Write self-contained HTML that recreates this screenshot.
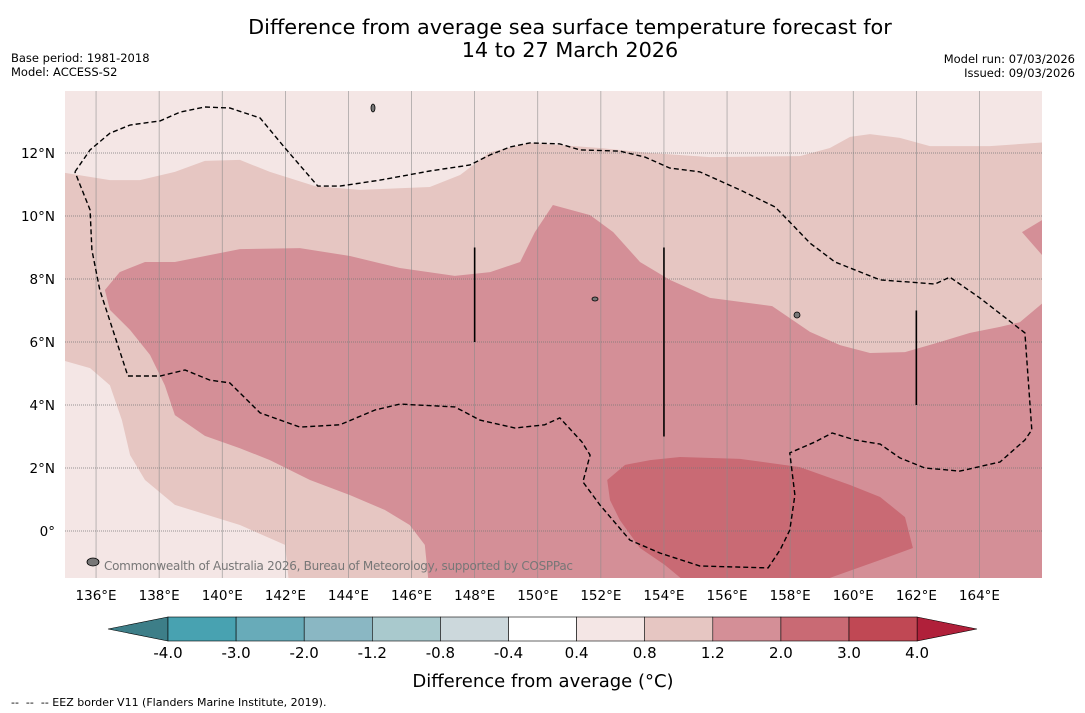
<!DOCTYPE html>
<html><head><meta charset="utf-8">
<style>
body{margin:0;background:#fff;font-family:"Liberation Sans","DejaVu Sans",sans-serif;}
svg{display:block}
text{font-family:"DejaVu Sans","Liberation Sans",sans-serif}
</style></head>
<body>
<svg id="chart" width="1085" height="713" viewBox="0 0 1085 713" xmlns="http://www.w3.org/2000/svg">
<rect width="1085" height="713" fill="#fff"/>
<text x="570" y="34" font-size="20.8" text-anchor="middle">Difference from average sea surface temperature forecast for</text>
<text x="570" y="57" font-size="20.8" text-anchor="middle">14 to 27 March 2026</text>
<text x="11" y="62" font-size="11.5">Base period: 1981-2018</text>
<text x="11" y="76" font-size="11.5">Model: ACCESS-S2</text>
<text x="1075" y="63" font-size="11.5" text-anchor="end">Model run: 07/03/2026</text>
<text x="1075" y="77" font-size="11.5" text-anchor="end">Issued: 09/03/2026</text>
<defs><clipPath id="mapclip"><rect x="65" y="91" width="977" height="487"/></clipPath></defs>
<g id="map" clip-path="url(#mapclip)"></g>
<g id="axes"></g>
<g id="cbar"></g>
<text x="543" y="687" font-size="18" text-anchor="middle">Difference from average (°C)</text>
<text x="11" y="706" font-size="11" xml:space="preserve">--  --  -- EEZ border V11 (Flanders Marine Institute, 2019).</text>
</svg>
<script>
const lonTicks=[136,138,140,142,144,146,148,150,152,154,156,158,160,162,164];
const latTicks=[0,2,4,6,8,10,12];
const contour08=[[135,11.37],[136.44,11.14],[137.39,11.14],[138.5,11.4],[139.45,11.75],[140.56,11.78],[141.51,11.4],[142.94,10.95],[144.37,10.83],[146.58,10.92],[147.54,11.3],[148.49,12.03],[149.75,12.32],[151.97,12.16],[153.56,12.0],[155.46,11.87],[158.31,11.9],[159.26,12.16],[159.9,12.51],[160.53,12.6],[161.48,12.48],[162.43,12.22],[164.33,12.22],[166.2,12.35],[166.2,-2],[142.15,-2],[141.99,-0.44],[140.56,0.19],[138.5,0.83],[137.55,1.62],[137.08,2.41],[136.82,3.52],[136.44,4.63],[135.81,5.17],[134.9,5.43]];
const contour12=[[136.28,7.65],[136.75,8.22],[137.55,8.54],[138.5,8.54],[140.56,8.95],[142.46,8.98],[144.05,8.73],[145.63,8.35],[147.37,8.1],[148.49,8.22],[149.44,8.54],[149.91,9.49],[150.48,10.35],[151.66,10.03],[152.39,9.49],[153.24,8.54],[154.19,7.97],[155.46,7.4],[157.43,7.14],[158.63,6.32],[159.58,5.9],[160.53,5.65],[161.64,5.68],[162.75,6.0],[163.7,6.29],[164.65,6.48],[165.28,6.63],[166.2,7.4],[166.2,-2],[146.58,-2],[146.42,-0.44],[145.94,0.19],[145.15,0.67],[144.05,1.14],[142.78,1.62],[141.51,2.25],[140.56,2.63],[139.45,3.02],[138.5,3.68],[138.18,4.63],[137.71,5.59],[137.08,6.38],[136.44,7.02]];
const contour12b=[[165.35,9.49],[166.2,10.0],[166.2,8.51]];
const contour20=[[152.2,1.62],[152.77,2.1],[153.56,2.25],[154.51,2.35],[156.41,2.29],[158.31,2.03],[159.9,1.46],[160.85,1.08],[161.64,0.44],[161.89,-0.54],[160.85,-0.92],[159.26,-1.49],[158.95,-2],[155.14,-2],[154.03,-1.08],[153.24,-0.54],[152.6,0.35],[152.29,0.98]];
const eez=[[135.33,11.4],[135.81,12.1],[136.44,12.63],[137.08,12.89],[138.03,13.02],[138.67,13.3],[139.45,13.46],[140.24,13.43],[141.2,13.11],[141.99,12.16],[143.03,10.95],[143.73,10.95],[145.0,11.14],[146.58,11.43],[147.85,11.62],[148.49,11.94],[149.12,12.19],[149.75,12.32],[150.7,12.29],[151.34,12.1],[152.6,12.06],[153.4,11.87],[154.19,11.52],[155.14,11.4],[156.41,10.83],[157.52,10.29],[157.99,9.81],[158.63,9.14],[159.42,8.54],[160.85,7.97],[162.59,7.84],[163.06,8.06],[164.01,7.4],[165.44,6.29],[165.66,3.21],[165.44,2.89],[164.65,2.19],[163.38,1.9],[162.27,2.0],[161.48,2.32],[160.85,2.76],[160.06,2.89],[159.33,3.11],[158.79,2.83],[157.99,2.48],[158.15,1.14],[157.99,0.03],[157.68,-0.6],[157.3,-1.17],[155.14,-1.11],[153.87,-0.7],[152.92,-0.29],[151.97,0.83],[151.43,1.56],[151.66,2.41],[151.4,2.83],[150.7,3.59],[150.22,3.37],[149.28,3.27],[148.17,3.52],[147.37,3.94],[145.63,4.03],[144.84,3.84],[143.73,3.37],[142.46,3.3],[141.2,3.75],[140.24,4.7],[139.61,4.79],[138.82,5.11],[138.03,4.92],[137.01,4.92],[136.12,7.65],[135.87,8.92],[135.81,10.19],[135.33,11.4]];
const meridianLons=[148,154,162];
const meridianLat0=[6,3,4];
const meridianLat1=[9,9,7];
const cbLabels=["-4.0","-3.0","-2.0","-1.2","-0.8","-0.4","0.4","0.8","1.2","2.0","3.0","4.0"];
const cbColors=["#48a2b1","#68abb9","#8ab7c3","#a9c9cd","#ccd8dc","#ffffff","#f4e6e5","#e6c6c2","#d48f97","#c96a74","#c04854"];

const NS="http://www.w3.org/2000/svg";
const X=lon=>64.5+(lon-135)*31.55;
const Y=lat=>531-lat*31.5;
const pts=a=>a.map(p=>X(p[0]).toFixed(1)+","+Y(p[1]).toFixed(1)).join(" ");
function mk(tag,attrs,parent){const e=document.createElementNS(NS,tag);for(const k in attrs)e.setAttribute(k,attrs[k]);parent.appendChild(e);return e;}
const map=document.getElementById('map');
let e=mk('rect',{x:65,y:91,width:977,height:487,fill:"#f4e6e5"},map);


e=mk('polygon',{points:pts(contour08),fill:"#e6c6c2"},map);


e=mk('polygon',{points:pts(contour12),fill:"#d48f97"},map);


e=mk('polygon',{points:pts(contour12b),fill:"#d48f97"},map);


e=mk('polygon',{points:pts(contour20),fill:"#c96a74"},map);


lonTicks.forEach(l=>{e=mk('line',{x1:X(l),x2:X(l),y1:91,y2:578,stroke:"#8a8a8a","stroke-width":0.7,"stroke-opacity":0.8},map);

});
latTicks.forEach(l=>{e=mk('line',{x1:65,x2:1042,y1:Y(l),y2:Y(l),stroke:"#777","stroke-width":0.8,"stroke-dasharray":"1,1"},map);

});
e=mk('polyline',{points:pts(eez),fill:"none",stroke:"#000","stroke-width":1.4,"stroke-dasharray":"5,3"},map);


meridianLons.forEach((l,i)=>{e=mk('line',{x1:X(l),x2:X(l),y1:Y(meridianLat0[i]),y2:Y(meridianLat1[i]),stroke:"#000","stroke-width":1.6},map);

});
[[373,108,2,4],[797,315,3,3],[93,562,6,4],[595,299,3,2]].forEach(p=>{e=mk('ellipse',{cx:p[0],cy:p[1],rx:p[2],ry:p[3],fill:"#777",stroke:"#000","stroke-width":0.8},map);

});
e=mk('text',{x:104,y:570,"font-size":12,fill:"#777","textLength":469},map);e.textContent="Commonwealth of Australia 2026, Bureau of Meteorology, supported by COSPPac";


const axes=document.getElementById('axes');
lonTicks.forEach(l=>{e=mk('text',{x:X(l),y:600,"font-size":13.5,"text-anchor":"middle"},axes);e.textContent=l+"°E";

});
latTicks.forEach(l=>{e=mk('text',{x:55,y:Y(l)+5,"font-size":13.5,"text-anchor":"end"},axes);e.textContent=l===0?"0°":l+"°N";

});
const cb=document.getElementById('cbar');
const cx0=168,cw=68.1,cy=617,ch=24;
e=mk('polygon',{points:`108,629 ${cx0},${cy} ${cx0},${cy+ch}`,fill:"#3d7e88",stroke:"#000","stroke-width":0.6},cb);


const cx1=cx0+cw*cbColors.length;
e=mk('polygon',{points:`${cx1},${cy} 977,629 ${cx1},${cy+ch}`,fill:"#b0203a",stroke:"#000","stroke-width":0.6},cb);


cbColors.forEach((c,i)=>{e=mk('rect',{x:cx0+i*cw,y:cy,width:cw,height:ch,fill:c,stroke:"#000","stroke-width":0.6},cb);

});
cbLabels.forEach((t,i)=>{e=mk('text',{x:cx0+i*cw,y:658,"font-size":15,"text-anchor":"middle"},cb);e.textContent=t;

});
</script>
</body></html>
